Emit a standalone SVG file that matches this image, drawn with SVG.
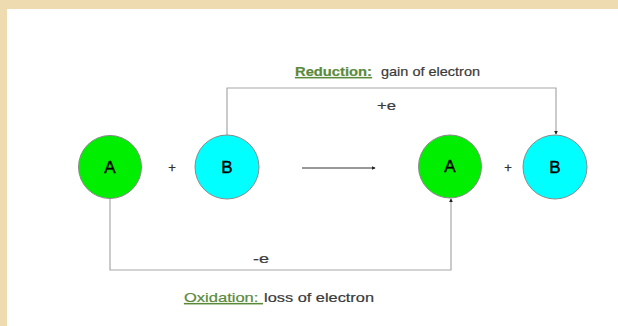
<svg xmlns="http://www.w3.org/2000/svg" width="618" height="326" viewBox="0 0 618 326">
<defs>
<marker id="ah" viewBox="0 0 6 6" refX="5" refY="3" markerWidth="4" markerHeight="4" orient="auto" markerUnits="userSpaceOnUse">
<path d="M0,0 L6,3 L0,6 z" fill="#222"/>
</marker>
<style>
.bg{fill:#efdbb0}
.page{fill:#ffffff}
.conn{fill:none;stroke:#a8a8a8;stroke-width:1.2}
.arr{fill:none;stroke:#333;stroke-width:1}
.na{fill:#00ee00;stroke:#8a8a8a;stroke-width:1}
.nb{fill:#00ffff;stroke:#8a8a8a;stroke-width:1}
.lbl{font-family:"Liberation Sans",Arial,sans-serif;font-size:17px;fill:#000;stroke:#000;stroke-width:0.4;text-anchor:middle;dominant-baseline:central}
.t{font-family:"Liberation Sans",Arial,sans-serif;font-size:13px;fill:#3a3a3a;stroke:#3a3a3a;stroke-width:0.2}
.g{fill:#5a8a3a;stroke:#5a8a3a;text-decoration:underline}
.plus{font-family:"Liberation Sans",Arial,sans-serif;font-size:13px;fill:#333;stroke:#333;stroke-width:0.3;text-anchor:middle;dominant-baseline:central}
</style>
</defs>
<rect class="bg" x="0" y="0" width="618" height="326"/>
<rect class="page" x="7" y="9" width="611" height="317"/>
<g id="connectors">
<polyline class="conn" points="227,135 227,88 556,88 556,134" marker-end="url(#ah)"/>
<polyline class="conn" points="110,199 110,270 451,270 451,199" marker-end="url(#ah)"/>
<line class="arr" x1="302" y1="168" x2="375" y2="168" marker-end="url(#ah)"/>
</g>
<g id="nodeA1"><circle class="na" cx="110" cy="167" r="31.5"/><text class="lbl" x="110" y="167">A</text></g>
<g id="nodeB1"><circle class="nb" cx="227" cy="167" r="32"/><text class="lbl" x="227" y="167">B</text></g>
<g id="nodeA2"><circle class="na" cx="450" cy="166.5" r="31.5"/><text class="lbl" x="450" y="166.5">A</text></g>
<g id="nodeB2"><circle class="nb" cx="555" cy="167" r="32"/><text class="lbl" x="555" y="167">B</text></g>
<g id="plus1"><text class="plus" x="172" y="167">+</text></g>
<g id="plus2"><text class="plus" x="508" y="167">+</text></g>
<g id="labels">
<text class="t g" x="295" y="76" font-weight="bold" textLength="77" lengthAdjust="spacingAndGlyphs">Reduction:</text>
<text class="t" x="381" y="76" textLength="99" lengthAdjust="spacingAndGlyphs">gain of electron</text>
<text class="t" x="377" y="110" textLength="19" lengthAdjust="spacingAndGlyphs">+e</text>
<text class="t" x="253" y="263" textLength="16" lengthAdjust="spacingAndGlyphs">-e</text>
<text class="t g" x="184" y="302" textLength="79" lengthAdjust="spacingAndGlyphs" xml:space="preserve">Oxidation: </text>
<text class="t" x="264" y="302" textLength="110" lengthAdjust="spacingAndGlyphs">loss of electron</text>
</g>
</svg>
